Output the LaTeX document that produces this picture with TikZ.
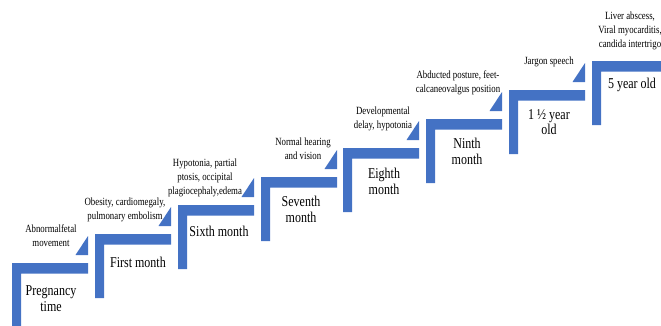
\documentclass[tikz,border=0pt]{standalone}
\usepackage{fontspec}
\setmainfont{Liberation Serif}
\newfontfamily\stepfont{Liberation Serif}[FakeStretch=0.8]
\definecolor{stepblue}{HTML}{4472C4}

\begin{document}
\begin{tikzpicture}[x=1pt,y=1pt]


\tikzset{StepStyle/.style  = {fill = stepblue},
         LabelStyle/.style = {align = center, inner sep = 0pt,
                              font = \stepfont\fontsize{15}{15.5}\selectfont},
         NoteStyle/.style  = {align = center, inner sep = 0pt,
                              font = \stepfont\fontsize{11}{14}\selectfont}}

\clip (0,0) rectangle (661,325);

\fill[StepStyle] (12,62) -- ++(76,0) -- ++(0,-10.5) -- ++(-67,0) -- ++(0,-53.5) -- ++(-9,0) -- cycle;
\fill[StepStyle] (95,91) -- ++(76,0) -- ++(0,-10.5) -- ++(-67,0) -- ++(0,-53.5) -- ++(-9,0) -- cycle;
\fill[StepStyle] (178,120) -- ++(76,0) -- ++(0,-10.5) -- ++(-67,0) -- ++(0,-53.5) -- ++(-9,0) -- cycle;
\fill[StepStyle] (261,148) -- ++(76,0) -- ++(0,-10.5) -- ++(-67,0) -- ++(0,-53.5) -- ++(-9,0) -- cycle;
\fill[StepStyle] (343,177) -- ++(76,0) -- ++(0,-10.5) -- ++(-67,0) -- ++(0,-53.5) -- ++(-9,0) -- cycle;
\fill[StepStyle] (426,206) -- ++(76,0) -- ++(0,-10.5) -- ++(-67,0) -- ++(0,-53.5) -- ++(-9,0) -- cycle;
\fill[StepStyle] (509,235) -- ++(76,0) -- ++(0,-10.5) -- ++(-67,0) -- ++(0,-53.5) -- ++(-9,0) -- cycle;
\fill[StepStyle] (592,264) -- ++(76,0) -- ++(0,-10.5) -- ++(-67,0) -- ++(0,-53.5) -- ++(-9,0) -- cycle;

\fill[StepStyle] (88,70) -- ++(0,19) -- ++(-12.5,-19) -- cycle;
\fill[StepStyle] (171,99) -- ++(0,19) -- ++(-12.5,-19) -- cycle;
\fill[StepStyle] (254,128) -- ++(0,19) -- ++(-12.5,-19) -- cycle;
\fill[StepStyle] (337,156) -- ++(0,19) -- ++(-12.5,-19) -- cycle;
\fill[StepStyle] (419,185) -- ++(0,19) -- ++(-12.5,-19) -- cycle;
\fill[StepStyle] (502,214) -- ++(0,19) -- ++(-12.5,-19) -- cycle;
\fill[StepStyle] (585,243) -- ++(0,19) -- ++(-12.5,-19) -- cycle;

\node[LabelStyle] (s0) at (51,26.5)   {Pregnancy\\time};
\node[LabelStyle] (s1) at (138,63)    {First month};
\node[LabelStyle] (s2) at (219,94)    {Sixth month};
\node[LabelStyle] (s3) at (301,115.5) {Seventh\\month};
\node[LabelStyle] (s4) at (384,143.5) {Eighth\\month};
\node[LabelStyle] (s5) at (467,173.5) {Ninth\\month};
\node[LabelStyle] (s6) at (549,203)   {1 ½ year\\old};
\node[LabelStyle] (s7) at (632,240)   {5 year old};

\node[NoteStyle] (n0) at (51,89)     {Abnormalfetal\\movement};
\node[NoteStyle] (n1) at (125,115.5) {Obesity, cardiomegaly,\\pulmonary embolism};
\node[NoteStyle] (n2) at (205,147.5) {Hypotonia, partial\\ptosis, occipital\\plagiocephaly,edema};
\node[NoteStyle] (n3) at (303,176.5) {Normal hearing\\and vision};
\node[NoteStyle] (n4) at (383,206.5) {Developmental\\delay, hypotonia};
\node[NoteStyle] (n5) at (458,242.5) {Abducted posture, feet-\\calcaneovalgus position};
\node[NoteStyle] (n6) at (549,263)   {Jargon speech};
\node[NoteStyle] (n7) at (630,294)   {Liver abscess,\\Viral myocarditis,\\candida intertrigo};

\end{tikzpicture}
\end{document}
